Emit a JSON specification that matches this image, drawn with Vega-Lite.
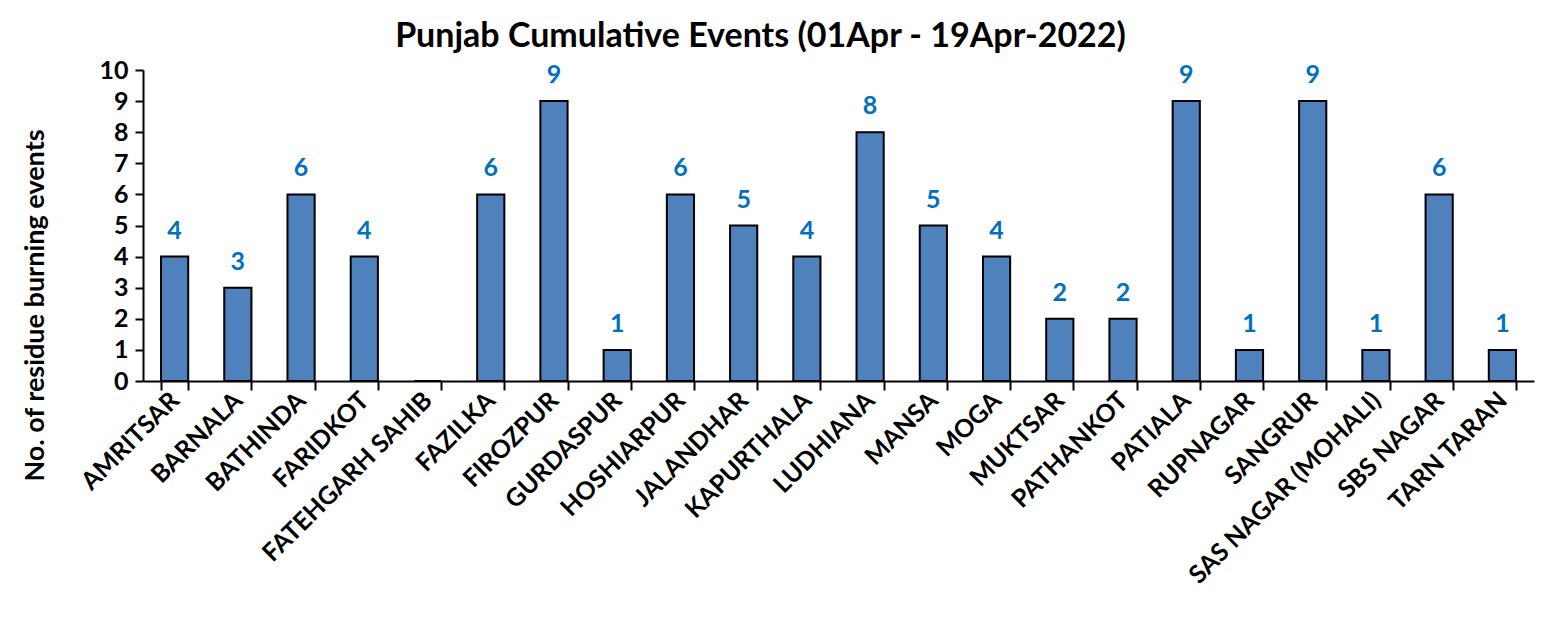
{
  "$schema": "https://vega.github.io/schema/vega-lite/v6.json",
  "autosize": "none",
  "width": 1391,
  "height": 311,
  "padding": {"left": 143, "top": 70, "right": 15, "bottom": 247},
  "background": "white",
  "title": {
    "text": "Punjab Cumulative Events (01Apr - 19Apr-2022)",
    "font": "Lato",
    "fontSize": 34,
    "fontWeight": "bold",
    "color": "black",
    "anchor": "middle",
    "dx": -78,
    "offset": 4
  },
  "data": {
    "values": [
      {"district": "AMRITSAR", "events": 4},
      {"district": "BARNALA", "events": 3},
      {"district": "BATHINDA", "events": 6},
      {"district": "FARIDKOT", "events": 4},
      {"district": "FATEHGARH SAHIB", "events": 0},
      {"district": "FAZILKA", "events": 6},
      {"district": "FIROZPUR", "events": 9},
      {"district": "GURDASPUR", "events": 1},
      {"district": "HOSHIARPUR", "events": 6},
      {"district": "JALANDHAR", "events": 5},
      {"district": "KAPURTHALA", "events": 4},
      {"district": "LUDHIANA", "events": 8},
      {"district": "MANSA", "events": 5},
      {"district": "MOGA", "events": 4},
      {"district": "MUKTSAR", "events": 2},
      {"district": "PATHANKOT", "events": 2},
      {"district": "PATIALA", "events": 9},
      {"district": "RUPNAGAR", "events": 1},
      {"district": "SANGRUR", "events": 9},
      {"district": "SAS NAGAR (MOHALI)", "events": 1},
      {"district": "SBS NAGAR", "events": 6},
      {"district": "TARN TARAN", "events": 1}
    ]
  },
  "encoding": {
    "x": {
      "field": "district",
      "type": "nominal",
      "sort": null,
      "scale": {"paddingInner": 0.57, "paddingOuter": 0.285},
      "axis": {
        "title": null,
        "labelAngle": -45,
        "labelAlign": "right",
        "labelBaseline": "middle",
        "labelFont": "Lato",
        "labelFontSize": 25,
        "labelFontWeight": "bold",
        "labelColor": "black",
        "labelPadding": 6,
        "tickBand": "extent",
        "tickSize": 9,
        "tickWidth": 2,
        "tickColor": "black",
        "domainColor": "black",
        "domainWidth": 2,
        "labelLimit": 400
      }
    },
    "y": {
      "field": "events",
      "type": "quantitative",
      "scale": {"domain": [0, 10]},
      "axis": {
        "title": "No. of residue burning events",
        "titleFont": "Lato",
        "titleFontSize": 27,
        "titleFontWeight": "bold",
        "titleColor": "black",
        "titleX": -108,
        "titleY": 235,
        "titleAngle": -90,
        "titleAlign": "center",
        "titleBaseline": "middle",
        "values": [0, 1, 2, 3, 4, 5, 6, 7, 8, 9, 10],
        "labelFont": "Lato",
        "labelFontSize": 25,
        "labelFontWeight": "bold",
        "labelColor": "black",
        "labelPadding": 7,
        "tickSize": 8,
        "tickWidth": 2,
        "tickColor": "black",
        "domainColor": "black",
        "domainWidth": 2,
        "grid": false
      }
    }
  },
  "layer": [
    {
      "mark": {"type": "bar", "fill": "#4F81BD", "stroke": "black", "strokeWidth": 2}
    },
    {
      "transform": [{"filter": "datum.events > 0"}],
      "mark": {
        "type": "text",
        "font": "Lato",
        "fontSize": 25,
        "fontWeight": "bold",
        "color": "#0070C0",
        "baseline": "bottom",
        "dy": -13
      },
      "encoding": {"text": {"field": "events", "type": "quantitative"}}
    }
  ],
  "config": {"view": {"stroke": null}}
}
